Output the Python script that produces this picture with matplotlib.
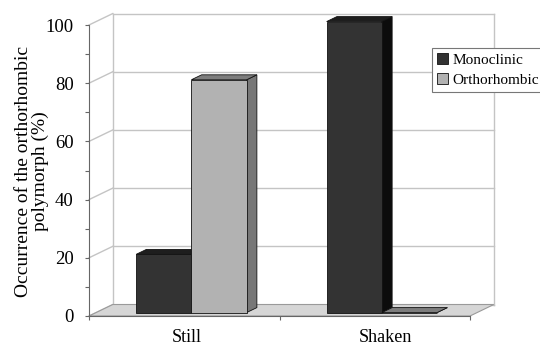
import matplotlib
matplotlib.use("Agg")
import matplotlib.pyplot as plt
from matplotlib.patches import Polygon, Patch

plt.rcParams['font.family'] = ['Liberation Serif', 'DejaVu Serif']

categories = ['Still', 'Shaken']
monoclinic = [20, 100]
orthorhombic = [80, 0]
series_names = ['Monoclinic', 'Orthorhombic']

# face colours: front, top, side
mono_faces = ('#333333', '#1e1e1e', '#0c0c0c')
ortho_faces = ('#b2b2b2', '#7d7d7d', '#777777')
grid_col = '#c4c4c4'

# full depth of the 3d box, in data units (categories, percent)
DX, DY = 0.125, 3.95
# where the bars sit inside that depth
Z0, Z1 = 0.3, 0.73
BAR_W = 0.29
GROUP_START = 0.21

fig = plt.figure(figsize=(5.4, 3.46), dpi=100)
ax = fig.add_axes([0, 0, 1, 1])
ax.set_xlim(-89 / 190.5, 451 / 190.5)
ax.set_ylim(-30 / 2.91, 316 / 2.91)
ax.patch.set_alpha(0)

n = len(categories)

# back wall and side wall gridlines
for v in range(0, 101, 20):
    ax.plot([DX, n + DX], [v + DY, v + DY], color=grid_col, lw=1, zorder=1)
    ax.plot([0, DX], [v, v + DY], color=grid_col, lw=1, zorder=1)
ax.plot([DX, DX], [DY, 100 + DY], color=grid_col, lw=1, zorder=1)
ax.plot([n + DX, n + DX], [DY, 100 + DY], color=grid_col, lw=1, zorder=1)

# floor
ax.add_patch(Polygon([(0, 0), (n, 0), (n + DX, DY), (DX, DY)], closed=True,
                     facecolor='#d6d6d6', edgecolor='#9a9a9a', lw=0.8, zorder=1.2))


def draw_bar(x0, w, v, faces):
    fx, fy = Z0 * DX, Z0 * DY
    bx, by = Z1 * DX, Z1 * DY
    front = [(x0 + fx, fy), (x0 + w + fx, fy), (x0 + w + fx, v + fy), (x0 + fx, v + fy)]
    top = [(x0 + fx, v + fy), (x0 + w + fx, v + fy), (x0 + w + bx, v + by), (x0 + bx, v + by)]
    side = [(x0 + w + fx, fy), (x0 + w + bx, by), (x0 + w + bx, v + by), (x0 + w + fx, v + fy)]
    for pts, col in zip((side, top, front), (faces[2], faces[1], faces[0])):
        ax.add_patch(Polygon(pts, closed=True, facecolor=col, edgecolor='#111111',
                             lw=0.6, zorder=2))


for i in range(n):
    x0 = i + GROUP_START
    draw_bar(x0, BAR_W, monoclinic[i], mono_faces)
    draw_bar(x0 + BAR_W, BAR_W, orthorhombic[i], ortho_faces)

# axes lines
for side in ('top', 'right'):
    ax.spines[side].set_visible(False)
ax.spines['left'].set_position(('data', 0))
ax.spines['left'].set_bounds(0, 100)
ax.spines['bottom'].set_position(('data', 0))
ax.spines['bottom'].set_bounds(0, n)
for side in ('left', 'bottom'):
    ax.spines[side].set_color('#666666')
    ax.spines[side].set_linewidth(0.8)
    ax.spines[side].set_zorder(3)

ax.set_yticks(range(0, 101, 20))
ax.set_yticks(range(10, 100, 20), minor=True)
ax.tick_params(axis='y', which='both', direction='out', length=3, width=0.8,
               color='#666666', labelsize=13.5, pad=8)

ax.set_xticks(range(0, n + 1))
ax.set_xticklabels([])
ax.set_xticks([0.514, 1.554], minor=True)
ax.set_xticklabels(categories, minor=True)
ax.tick_params(axis='x', which='major', direction='out', length=3, width=0.8, color='#666666')
ax.tick_params(axis='x', which='minor', length=0, labelsize=13, pad=9)

ax.set_ylabel('Occurrence of the orthorhombic\npolymorph (%)', fontsize=14,
              linespacing=0.95)
ax.yaxis.set_label_coords(0.09, 0.505)

handles = [Patch(facecolor=mono_faces[0], edgecolor='#111111', lw=0.6),
           Patch(facecolor=ortho_faces[0], edgecolor='#111111', lw=0.6)]
leg = ax.legend(handles, series_names, loc='upper left',
                bbox_to_anchor=(432 / 540, 1 - 48 / 346), bbox_transform=fig.transFigure,
                fontsize=11, fancybox=False, framealpha=1, edgecolor='#777777',
                handlelength=0.7, handleheight=0.7, handletextpad=0.3,
                borderpad=0.35, borderaxespad=0, labelspacing=0.4)
leg.get_frame().set_linewidth(0.8)

fig.savefig('out.png', dpi=100)
